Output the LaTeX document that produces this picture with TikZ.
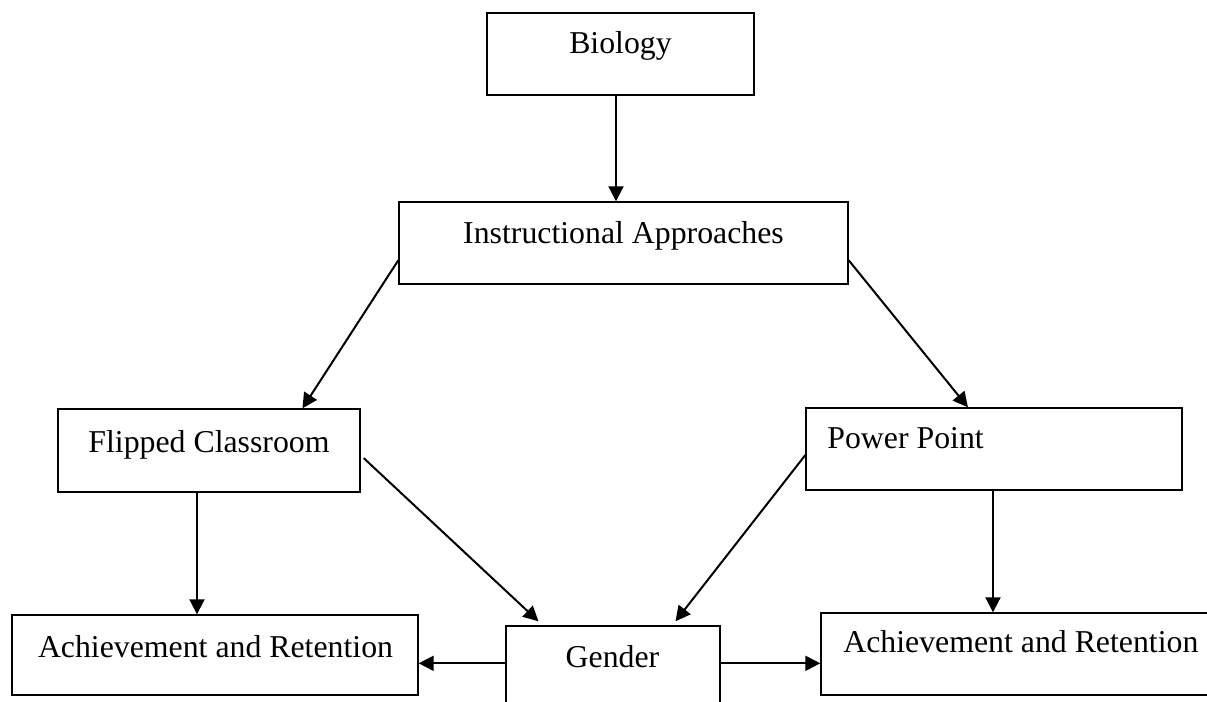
\documentclass[tikz,border=0pt]{standalone}
\usepackage{fontspec}
\setmainfont{Liberation Serif}
\usetikzlibrary{arrows.meta,calc}
\tikzset{
  box/.style={draw, line width=0.7pt, rectangle, inner sep=0pt},
  txt/.style={inner sep=0pt, font=\fontsize{15.9pt}{19pt}\selectfont},
  arr/.style={draw, line width=1pt, -{Triangle[length=7.5pt,width=7.5pt]}}
}
\begin{document}
\begin{tikzpicture}[x=0.5pt,y=-0.5pt]
\clip (0,0) rectangle (1207,702);
\fill[white] (0,0) rectangle (1207,702);
% boxes
\node[box, minimum width=133.5pt, minimum height=41pt] (bio) at (620.5,54) {};
\node[box, minimum width=224.5pt, minimum height=41pt] (ia) at (623.5,243) {};
\node[box, minimum width=151pt, minimum height=41.5pt] (fc) at (209,450.5) {};
\node[box, minimum width=188pt, minimum height=41pt] (pp) at (994,449) {};
\node[box, minimum width=203pt, minimum height=40pt] (arl) at (215,655) {};
\node[box, minimum width=107pt, minimum height=48pt] (g) at (613,674) {};
\node[box, minimum width=197pt, minimum height=41pt] (arr) at (1018,654) {};
% texts
\node[txt, anchor=base] (biot) at (620.5,53) {Biology};
\node[txt, anchor=base] (iat) at (623.5,243) {Instructional Approaches};
\node[txt, anchor=base] (fct) at (209,452) {Flipped Classroom};
\node[txt, anchor=base west] (ppt) at (827,448) {Power Point};
\node[txt, anchor=base] (arlt) at (215.5,657) {Achievement and Retention};
\node[txt, anchor=base] (gt) at (612.5,667) {Gender};
\node[txt, anchor=base west] (arrt) at (843,652) {Achievement and Retention};
% connectors
\draw[arr] ($(bio.south)+(-4.5,0)$) -- ($(ia.north)+(-7.5,0)$);
\draw[arr] ($(ia.north west)!0.707!(ia.south west)$) -- ($(fc.north west)!0.808!(fc.north east)$);
\draw[arr] ($(ia.north east)!0.707!(ia.south east)$) -- ($(pp.north west)!0.431!(pp.north east)$);
\draw[arr] ($(fc.north east)!0.59!(fc.south east)+(3,0)$) -- ($(g.north west)!0.154!(g.north east)+(0,-4)$);
\draw[arr] ($(pp.north west)!0.573!(pp.south west)$) -- ($(g.north west)!0.79!(g.north east)+(0,-4)$);
\draw[arr] ($(fc.south)+(-12,0)$) -- ($(arl.north)+(-18,0)$);
\draw[arr] ($(pp.south)+(-1,0)$) -- ($(arr.north)+(-25,0)$);
\draw[arr] ($(g.north west)+(0,38)$) coordinate (gl) -- (gl -| arl.east);
\draw[arr] ($(g.north east)+(0,38)$) coordinate (gr) -- (gr -| arr.west);
\end{tikzpicture}
\end{document}
